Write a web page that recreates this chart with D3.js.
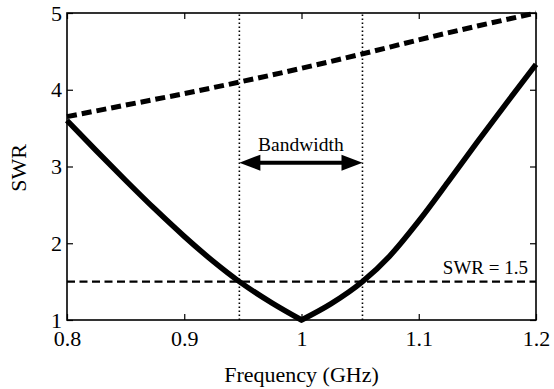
<!DOCTYPE html>
<html>
<head>
<meta charset="utf-8">
<script src="https://cdn.jsdelivr.net/npm/d3@7"></script>
<style>
  html, body { margin: 0; padding: 0; background: #fff; }
  svg { display: block; }
  svg text { font-family: "Liberation Serif", "Times New Roman", Tinos, "DejaVu Serif", serif; fill: #000; }
</style>
</head>
<body>
<svg id="chart" width="554" height="389"></svg>
<script>
// Measured SWR of the matched antenna (solid) versus frequency, split at the match point
const freqLeft  = [0.80, 0.825, 0.85, 0.875, 0.90, 0.925, 0.947, 0.975, 1.00];
const swrLeft   = [3.60, 3.205, 2.82, 2.445, 2.09, 1.76,  1.50,  1.22,  1.00];
const freqRight = [1.00, 1.025, 1.052, 1.075, 1.10, 1.125, 1.15, 1.175, 1.20];
const swrRight  = [1.00, 1.21,  1.50,  1.83,  2.29, 2.80,  3.32, 3.83,  4.33];

// Unmatched SWR (thick dashed)
const freqUnmatched = [0.80, 0.85, 0.90, 0.95, 1.00, 1.05, 1.10, 1.15, 1.20];
const swrUnmatched  = [3.65, 3.80, 3.95, 4.11, 4.28, 4.46, 4.65, 4.83, 5.00];

// Bandwidth limits where SWR = 1.5
const swrLimit = 1.5;
const bandEdges = [0.947, 1.052];
const arrowSwr = 3.05;

const xTicks = [0.8, 0.9, 1.0, 1.1, 1.2];
const xTickLabels = ["0.8", "0.9", "1", "1.1", "1.2"];
const yTicks = [1, 2, 3, 4, 5];
const yTickLabels = ["1", "2", "3", "4", "5"];

const serif = "'Liberation Serif', 'Times New Roman', Tinos, 'DejaVu Serif', serif";
const svg = d3.select("#chart").attr("font-family", serif);
const plotLeft = 67, plotRight = 536, plotTop = 13, plotBottom = 320;

const x = d3.scaleLinear().domain([0.8, 1.2]).range([plotLeft, plotRight]);
const y = d3.scaleLinear().domain([1, 5]).range([plotBottom, plotTop]);

const tickFont = 22;

// Axes with inward ticks on all four sides
const gx = svg.append("g").attr("transform", `translate(0,${plotBottom})`)
  .call(d3.axisBottom(x).tickValues(xTicks)
    .tickFormat((d, i) => xTickLabels[i])
    .tickSizeInner(-6).tickSizeOuter(0).tickPadding(10));
const gy = svg.append("g").attr("transform", `translate(${plotLeft},0)`)
  .call(d3.axisLeft(y).tickValues(yTicks)
    .tickFormat((d, i) => yTickLabels[i])
    .tickSizeInner(-6).tickSizeOuter(0).tickPadding(5));
const gt = svg.append("g").attr("transform", `translate(0,${plotTop})`)
  .call(d3.axisTop(x).tickValues(xTicks).tickFormat("")
    .tickSizeInner(-6).tickSizeOuter(0));
const gr = svg.append("g").attr("transform", `translate(${plotRight},0)`)
  .call(d3.axisRight(y).tickValues(yTicks).tickFormat("")
    .tickSizeInner(-6).tickSizeOuter(0));

[gx, gy, gt, gr].forEach(g => {
  g.attr("font-family", serif).attr("font-size", tickFont);
  g.select(".domain").remove();
  g.selectAll(".tick line").attr("stroke", "#000").attr("stroke-width", 1.2);
  g.selectAll("text").attr("fill", "#000").attr("font-family", serif);
});

// Plot frame
svg.append("rect")
  .attr("x", plotLeft).attr("y", plotTop)
  .attr("width", plotRight - plotLeft).attr("height", plotBottom - plotTop)
  .attr("fill", "none").attr("stroke", "#000").attr("stroke-width", 1.6);

// SWR = 1.5 reference line
svg.append("line")
  .attr("x1", x(0.8)).attr("x2", x(1.2))
  .attr("y1", y(swrLimit)).attr("y2", y(swrLimit))
  .attr("stroke", "#000").attr("stroke-width", 2.2)
  .attr("stroke-dasharray", "8,4.5");

// Band edge markers
svg.selectAll("line.edge").data(bandEdges).enter().append("line")
  .attr("class", "edge")
  .attr("x1", d => x(d)).attr("x2", d => x(d))
  .attr("y1", y(1)).attr("y2", y(5))
  .attr("stroke", "#000").attr("stroke-width", 1.6)
  .attr("stroke-dasharray", "1.4,2.6");

// Unmatched curve
const line = d3.line().x(d => x(d[0])).y(d => y(d[1])).curve(d3.curveMonotoneX);
svg.append("path")
  .attr("d", line(d3.zip(freqUnmatched, swrUnmatched)))
  .attr("fill", "none").attr("stroke", "#000").attr("stroke-width", 5)
  .attr("stroke-dasharray", "10,5");

// Matched curve: both branches joined into one path so the minimum stays a sharp V
const leftPath = line(d3.zip(freqLeft, swrLeft));
const rightPath = line(d3.zip(freqRight, swrRight)).replace(/^M/, "L");
svg.append("path")
  .attr("d", leftPath + rightPath)
  .attr("fill", "none").attr("stroke", "#000").attr("stroke-width", 5.5)
  .attr("stroke-linejoin", "miter");

// Bandwidth double arrow
const ax0 = x(bandEdges[0]), ax1 = x(bandEdges[1]), ay = y(arrowSwr);
const headLen = 21, headHalf = 8;
svg.append("line")
  .attr("x1", ax0 + headLen - 2).attr("x2", ax1 - headLen + 2)
  .attr("y1", ay).attr("y2", ay)
  .attr("stroke", "#000").attr("stroke-width", 4);
svg.append("path")
  .attr("d", `M${ax0},${ay} L${ax0 + headLen},${ay - headHalf} L${ax0 + headLen},${ay + headHalf} Z`)
  .attr("fill", "#000");
svg.append("path")
  .attr("d", `M${ax1},${ay} L${ax1 - headLen},${ay - headHalf} L${ax1 - headLen},${ay + headHalf} Z`)
  .attr("fill", "#000");

svg.append("text")
  .attr("x", (ax0 + ax1) / 2).attr("y", ay - 12)
  .attr("text-anchor", "middle")
  .attr("font-size", 19.5)
  .text("Bandwidth");

svg.append("text")
  .attr("x", 528).attr("y", y(swrLimit) - 8)
  .attr("text-anchor", "end")
  .attr("font-size", 19)
  .text("SWR = 1.5");

// Axis titles
svg.append("text")
  .attr("x", (plotLeft + plotRight) / 2).attr("y", 382)
  .attr("text-anchor", "middle")
  .attr("font-size", 22)
  .text("Frequency (GHz)");

svg.append("text")
  .attr("transform", `translate(26,168) rotate(-90)`)
  .attr("text-anchor", "middle")
  .attr("font-size", 22)
  .text("SWR");
</script>
</body>
</html>
